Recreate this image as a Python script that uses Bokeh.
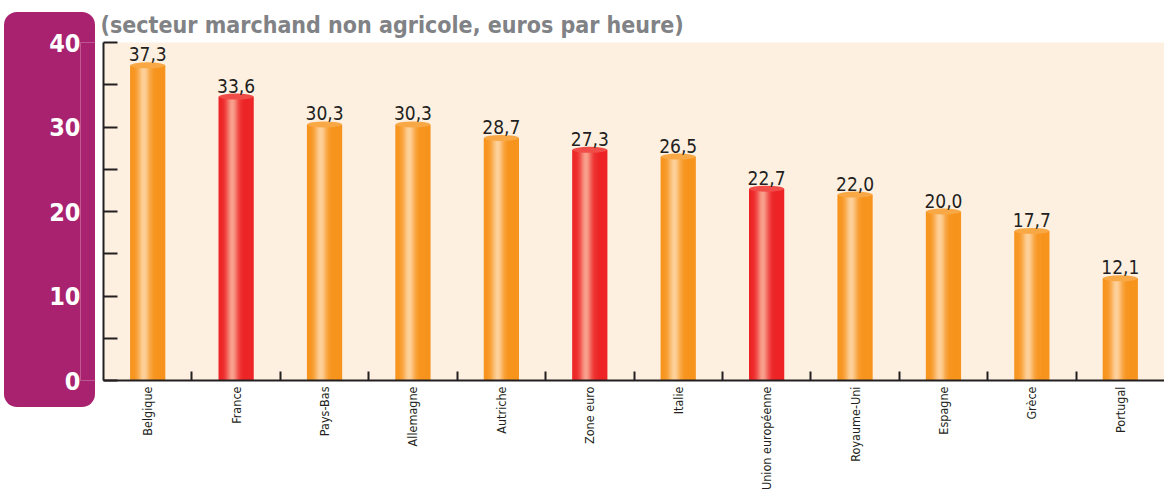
import numpy as np
from bokeh.plotting import figure
from bokeh.layouts import row
from bokeh.models import (ColumnDataSource, FixedTicker, Range1d, Title, CustomJSTickFormatter)
from bokeh.core.properties import value
from bokeh.transform import dodge
from bokeh.embed import file_html
from bokeh.resources import INLINE
from math import pi

# ---------------- data ----------------
categories = ["Belgique", "France", "Pays-Bas", "Allemagne", "Autriche", "Zone euro",
              "Italie", "Union européenne", "Royaume-Uni", "Espagne", "Grèce", "Portugal"]
values = [37.3, 33.6, 30.3, 30.3, 28.7, 27.3, 26.5, 22.7, 22.0, 20.0, 17.7, 12.1]
highlight = [False, True, False, False, False, True, False, True, False, False, False, False]
y_ticks = [0, 5, 10, 15, 20, 25, 30, 35, 40]
y_labels = [0, 10, 20, 30, 40]
title_text = "(secteur marchand non agricole, euros par heure)"

# ---------------- style ----------------
FONT = "DejaVu Sans Condensed, Roboto, sans-serif"
ORANGE_EDGE = (247, 148, 29)
ORANGE_LIGHT = (254, 214, 166)
RED_EDGE = (237, 36, 38)
RED_LIGHT = (249, 172, 150)
CREAM = "#FDF0E1"
PURPLE = "#A8226F"
INK = "#231F20"
H = 493
TOP, BOTTOM = 42, 112

def mix(a, b, w):
    return "#%02x%02x%02x" % tuple(int(round(a[k] * (1 - w) + b[k] * w)) for k in range(3))

def profile(t):
    # cylinder shading: highlight left of centre
    return 0.92 * np.exp(-((t - 0.40) / 0.17) ** 2)

N = 36
W = 0.39
x = list(range(len(categories)))
data = dict(x=x, top=values,
            label=[("%.1f" % v).replace(".", ",") for v in values])
for i in range(N):
    t = (i + 0.5) / N
    w = profile(t)
    data["c%d" % i] = [mix(RED_EDGE, RED_LIGHT, w) if h else mix(ORANGE_EDGE, ORANGE_LIGHT, w)
                       for h in highlight]
data["cap"] = [mix(RED_EDGE, RED_LIGHT, 0.3) if h else mix(ORANGE_EDGE, ORANGE_LIGHT, 0.3)
               for h in highlight]
src = ColumnDataSource(data)

y_range = Range1d(0, 40)

# ---------------- purple label panel (left) ----------------
lf = figure(width=95, height=H, x_range=Range1d(0, 1), y_range=y_range,
            output_backend="svg", toolbar_location=None,
            min_border_left=80, min_border_right=0, min_border_top=TOP, min_border_bottom=BOTTOM,
            styles={"clip-path": "inset(12px 0px 86px 4px round 13px)"})
lf.background_fill_color = PURPLE
lf.border_fill_color = PURPLE
lf.outline_line_color = None
lf.xgrid.visible = False
lf.ygrid.visible = False
lf.xaxis.visible = False
la = lf.yaxis[0]
la.ticker = FixedTicker(ticks=y_labels)
la.major_tick_in = 0
la.major_tick_out = 0
la.minor_tick_line_color = None
la.axis_line_color = None
la.major_label_standoff = 0
la.major_label_text_font = FONT
la.major_label_text_font_style = "bold"
la.major_label_text_font_size = "25px"
la.major_label_text_color = "white"

# ---------------- main chart ----------------
p = figure(width=1069, height=H, x_range=Range1d(-0.5, len(categories) - 0.5),
           y_range=y_range, output_backend="svg", toolbar_location=None,
           min_border_left=8, min_border_right=0, min_border_top=TOP, min_border_bottom=BOTTOM)
p.xgrid.visible = False
p.ygrid.visible = False
p.outline_line_color = None
p.background_fill_color = CREAM
p.border_fill_color = "white"

# bars as shaded cylinders
for i in range(N):
    off = -W / 2 + (i + 0.5) * W / N
    p.vbar(x=dodge("x", off), top="top", bottom=0, width=W / N * 1.8, source=src,
           fill_color="c%d" % i, line_color=None)
p.ellipse(x="x", y="top", width=W, height=6, height_units="screen", source=src,
          fill_color="cap", line_color=None)

p.text(x="x", y="top", text="label", source=src, text_align="center",
       text_baseline="alphabetic", y_offset=-11, text_font=value(FONT),
       text_font_size="19px", text_color=INK)

# y axis (ticks only; numbers sit in the purple panel)
ya = p.yaxis[0]
ya.ticker = FixedTicker(ticks=y_ticks)
ya.formatter = CustomJSTickFormatter(code="return ''")
ya.major_label_text_font_size = "1px"
ya.major_label_standoff = 0
ya.major_tick_in = 14
ya.major_tick_out = 0
ya.minor_tick_line_color = None
ya.major_tick_line_width = 2
ya.major_tick_line_color = INK
ya.axis_line_width = 2
ya.axis_line_color = INK

# x axis
xa = p.xaxis[0]
xa.ticker = FixedTicker(ticks=x, minor_ticks=[i + 0.5 for i in x[:-1]])
xa.formatter = CustomJSTickFormatter(args=dict(labels=categories),
                                     code="return labels[Math.round(tick)] || ''")
xa.major_tick_in = 0
xa.major_tick_out = 0
xa.minor_tick_in = 9
xa.minor_tick_out = 0
xa.minor_tick_line_width = 2
xa.minor_tick_line_color = INK
xa.axis_line_width = 2
xa.axis_line_color = INK
xa.major_label_orientation = pi / 2
xa.major_label_standoff = 6
xa.major_label_text_font = FONT
xa.major_label_text_font_size = "12.5px"
xa.major_label_text_color = INK

p.add_layout(Title(text=title_text, align="left", offset=-3, standoff=10, text_font=FONT,
                   text_font_size="23px", text_font_style="bold", text_color="#808285"),
             "above")

layout = row(lf, p, spacing=0)
open("out.html", "w").write(file_html(layout, INLINE))
